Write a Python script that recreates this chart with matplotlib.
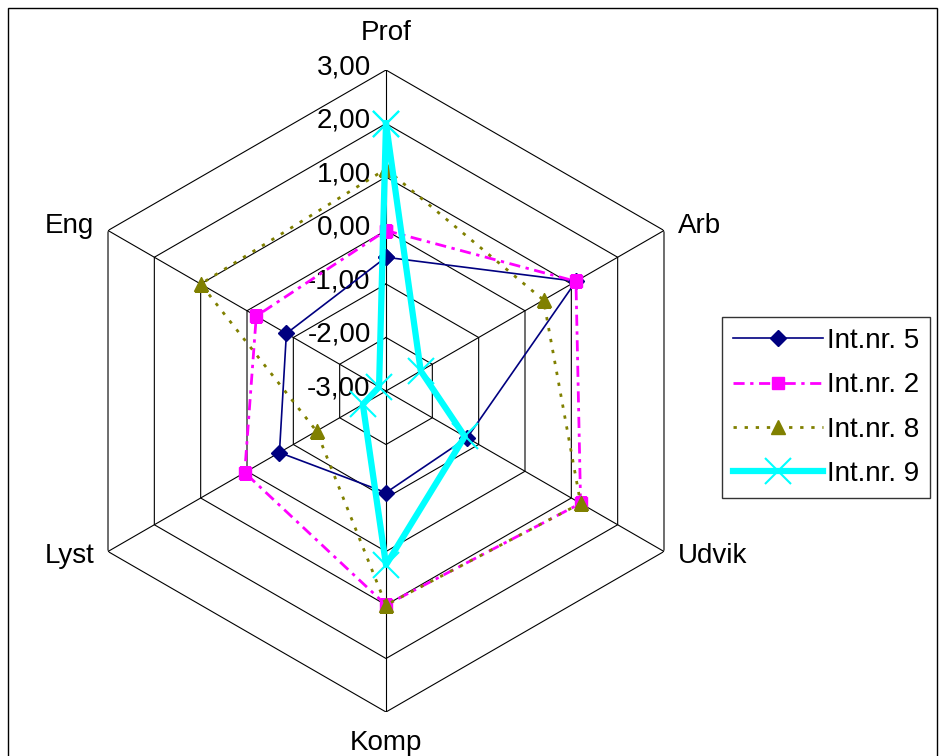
import numpy as np
import matplotlib.pyplot as plt
from matplotlib.patches import Rectangle

categories = ['Prof', 'Arb', 'Udvik', 'Komp', 'Lyst', 'Eng']
ring_values = [-3, -2, -1, 0, 1, 2, 3]
ring_labels = ['-3,00', '-2,00', '-1,00', '0,00', '1,00', '2,00', '3,00']

series_names = ['Int.nr. 5', 'Int.nr. 2', 'Int.nr. 8', 'Int.nr. 9']
int5 = [-0.5, 1.1, -1.25, -1.1, -0.7, -0.85]
int2 = [0.0, 1.1, 1.2, 1.0, 0.05, -0.2]
int8 = [1.15, 0.4, 1.2, 1.0, -1.5, 1.0]
int9 = [2.0, -2.25, -1.3, 0.25, -2.5, -2.85]


def closed(values):
    return list(values) + [values[0]]


def main():
    plt.rcParams['font.family'] = ['Liberation Sans', 'DejaVu Sans']
    fig = plt.figure(figsize=(9.4, 7.56), dpi=100)
    fig.patch.set_facecolor('white')

    # chart area border (Excel style)
    fig.add_artist(Rectangle((8 / 940, -0.1), 929 / 940, 748 / 756 + 0.1,
                             transform=fig.transFigure, fill=False,
                             edgecolor='black', linewidth=1))

    ax = fig.add_axes([65 / 940, 44 / 756, 642 / 940, 642 / 756], projection='polar')
    ax.set_theta_zero_location('N')
    ax.set_theta_direction(-1)
    ax.set_ylim(-3, 3)
    ax.grid(False)
    ax.spines['polar'].set_visible(False)
    ax.set_xticks([])
    ax.set_yticks([])

    angles = np.linspace(0, 2 * np.pi, len(categories), endpoint=False)
    theta = closed(list(angles))

    # hexagon grid
    for v in ring_values[1:]:
        ax.plot(theta, [v] * len(theta), color='black', linewidth=0.8, zorder=1)
    for a in angles:
        ax.plot([a, a], [-3, 3], color='black', linewidth=0.8, zorder=1)

    # ring value labels along the Prof axis
    for v, lab in zip(ring_values, ring_labels):
        ax.annotate(lab, xy=(0, v), xytext=(-11, 2), textcoords='offset points',
                    ha='right', va='center', fontsize=20, annotation_clip=False)

    # category labels
    offsets = [(0, 27, 'center'), (10, 3, 'left'), (10, -3, 'left'),
               (0, -22, 'center'), (-10, -3, 'right'), (-10, 3, 'right')]
    for a, cat, (dx, dy, ha) in zip(angles, categories, offsets):
        ax.annotate(cat, xy=(a, 3), xytext=(dx, dy), textcoords='offset points',
                    ha=ha, va='center', fontsize=20, annotation_clip=False)

    ax.plot(theta, closed(int5), color='#000080', linewidth=1.2, marker='D',
            markersize=8, label=series_names[0], zorder=3)
    ax.plot(theta, closed(int2), color='#FF00FF', linewidth=2, dashes=(4, 2, 1.2, 2),
            marker='s', markersize=9, label=series_names[1], zorder=3)
    ax.plot(theta, closed(int8), color='#808000', linewidth=2, dashes=(1.2, 2.8),
            marker='^', markersize=10, label=series_names[2], zorder=3)
    ax.plot(theta, closed(int9), color='#00FFFF', linewidth=4.5, marker='x',
            markersize=19, markeredgewidth=1.5, label=series_names[3], zorder=4)

    leg = fig.legend(loc='upper left', bbox_to_anchor=(722 / 940, 1 - 317 / 756),
                     fontsize=20, frameon=True, fancybox=False, shadow=False,
                     handlelength=3.25, handletextpad=0.12, labelspacing=0.66,
                     borderpad=0.4, borderaxespad=0)
    leg.get_frame().set_edgecolor('black')
    leg.get_frame().set_linewidth(1)

    fig.savefig('out.png', dpi=100)


if (__name__ == "__main__"):
    main()
